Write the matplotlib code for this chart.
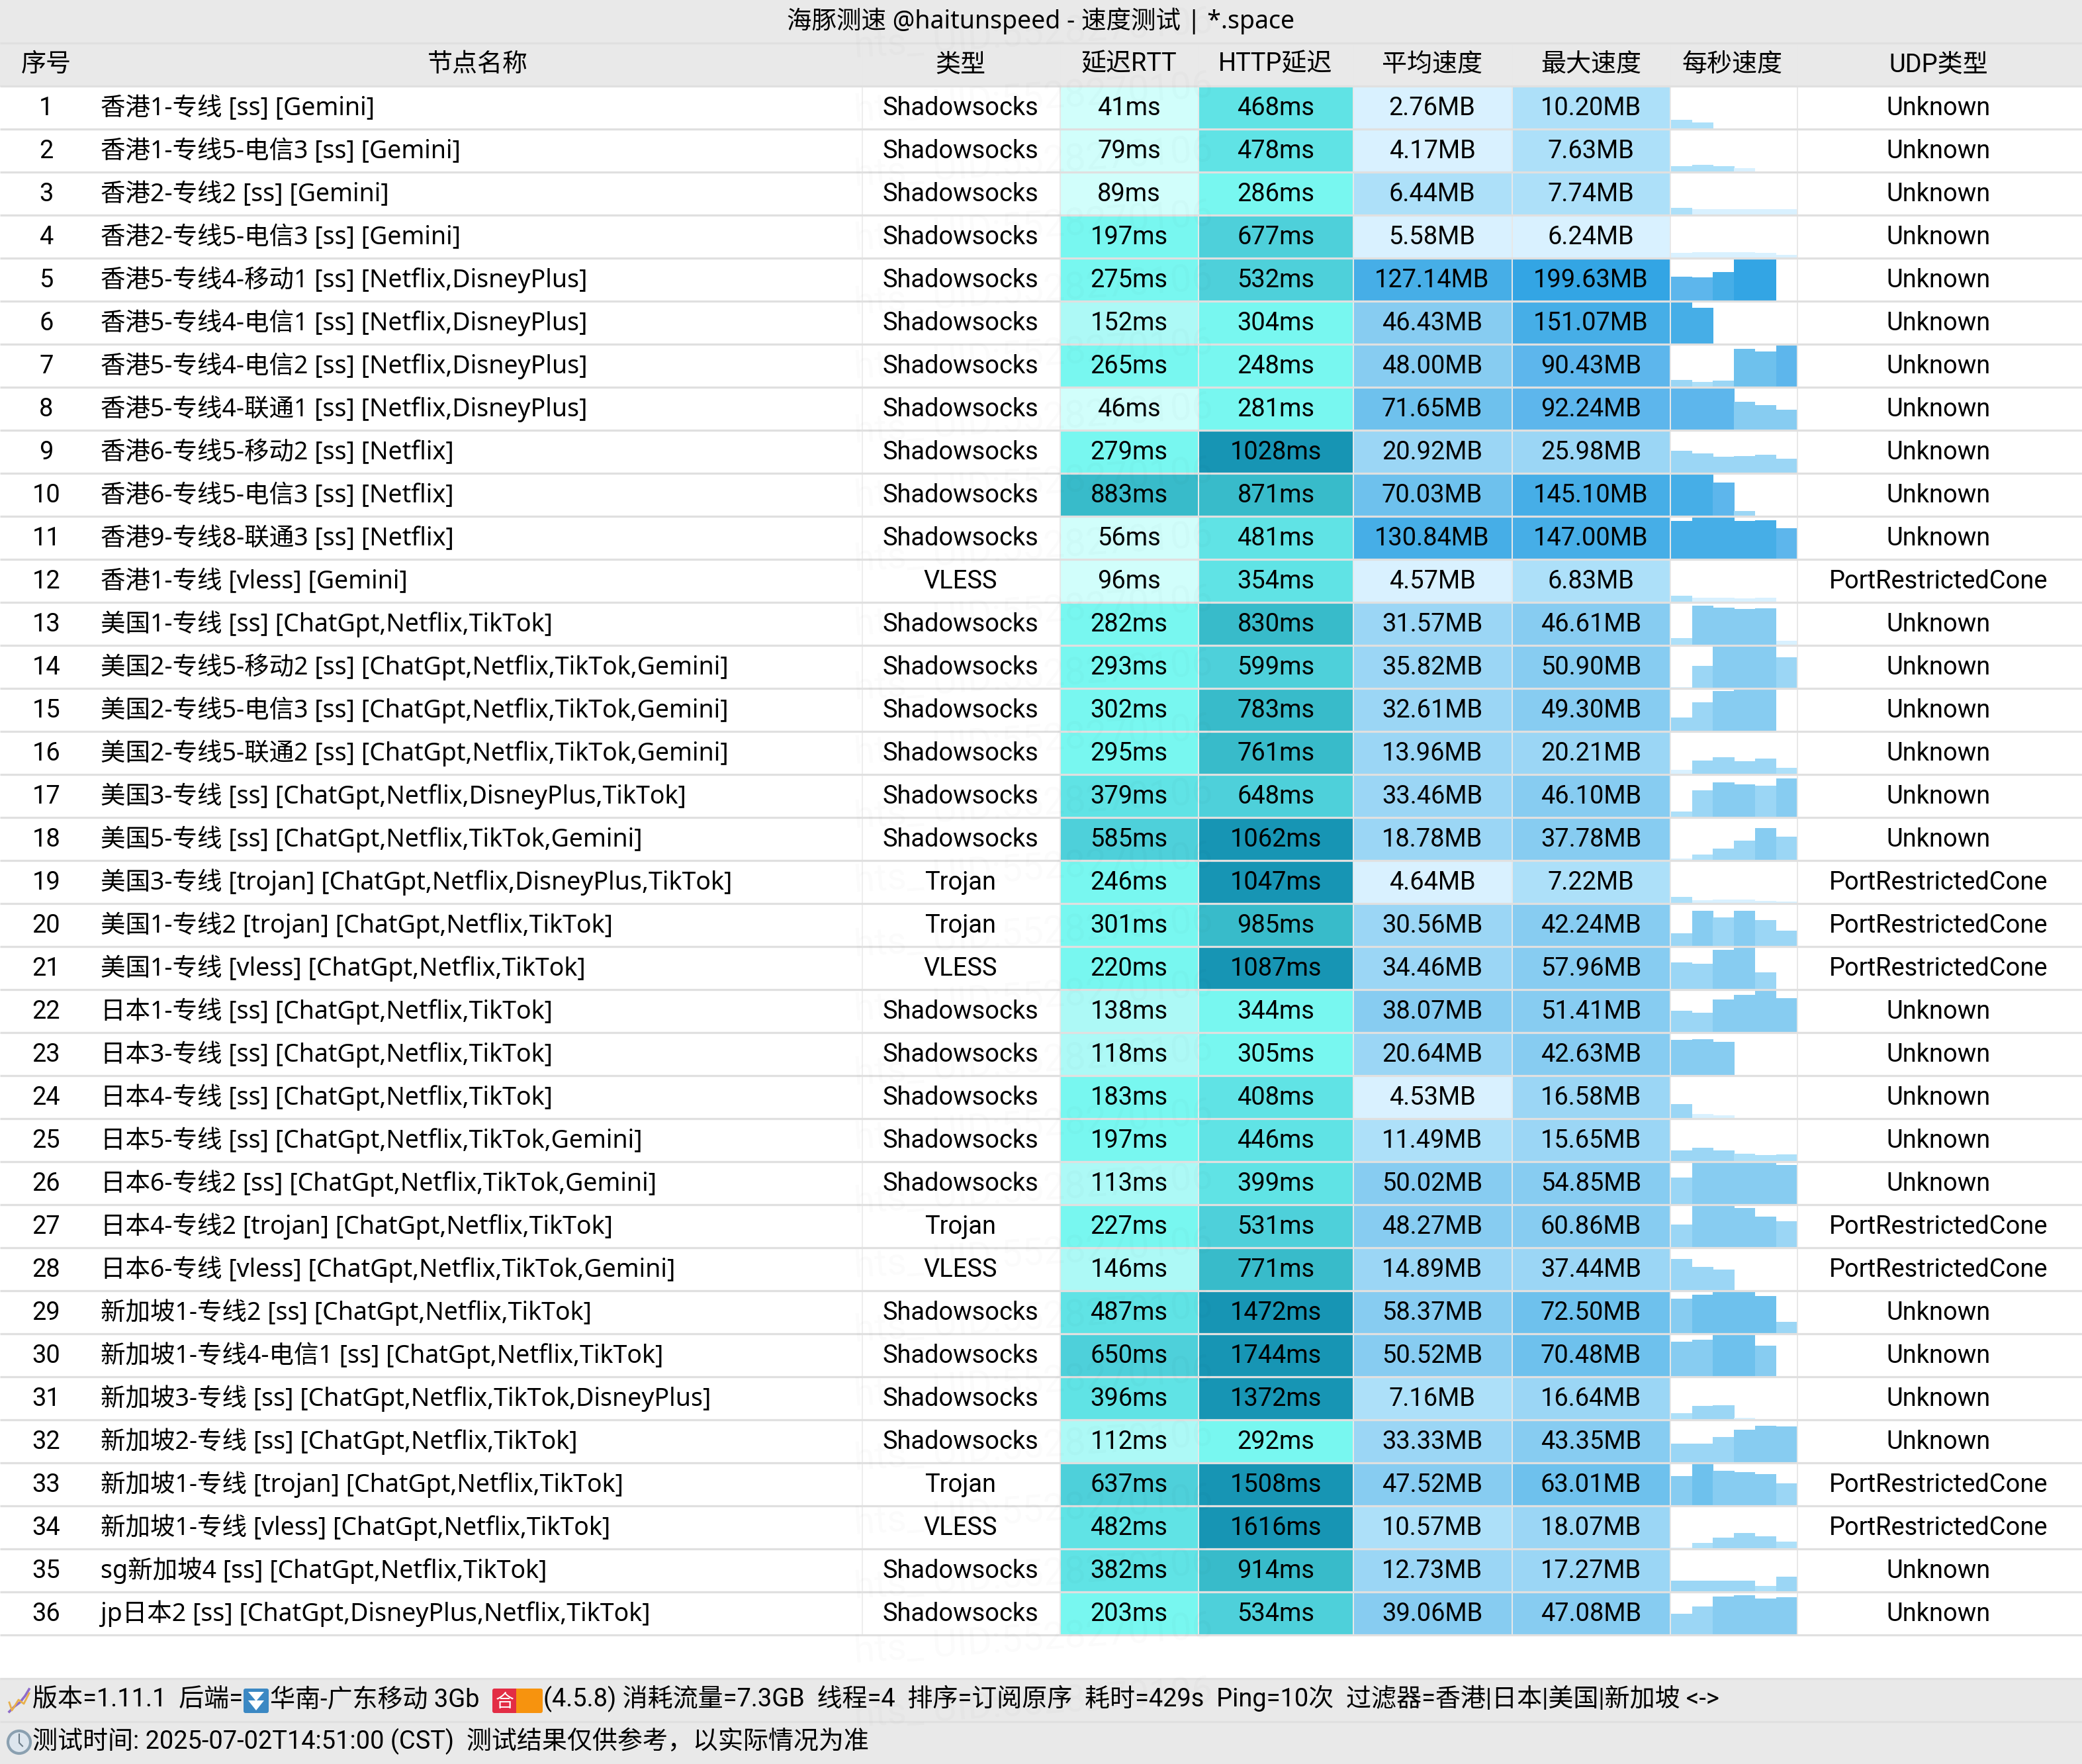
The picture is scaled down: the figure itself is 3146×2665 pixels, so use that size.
import matplotlib
matplotlib.use("Agg")
import matplotlib.pyplot as plt
from matplotlib.patches import Circle, FancyBboxPatch, Polygon

plt.rcParams["font.family"] = ["Roboto", "Noto Sans CJK SC", "DejaVu Sans"]
NAME_FONT = ["Noto Sans", "Noto Sans CJK SC", "DejaVu Sans"]

# table data
title = "海豚测速 @haitunspeed - 速度测试 | *.space"
headers = ["序号", "节点名称", "类型", "延迟RTT", "HTTP延迟", "平均速度", "最大速度", "每秒速度", "UDP类型"]
names = [
    "香港1-专线 [ss] [Gemini]",
    "香港1-专线5-电信3 [ss] [Gemini]",
    "香港2-专线2 [ss] [Gemini]",
    "香港2-专线5-电信3 [ss] [Gemini]",
    "香港5-专线4-移动1 [ss] [Netflix,DisneyPlus]",
    "香港5-专线4-电信1 [ss] [Netflix,DisneyPlus]",
    "香港5-专线4-电信2 [ss] [Netflix,DisneyPlus]",
    "香港5-专线4-联通1 [ss] [Netflix,DisneyPlus]",
    "香港6-专线5-移动2 [ss] [Netflix]",
    "香港6-专线5-电信3 [ss] [Netflix]",
    "香港9-专线8-联通3 [ss] [Netflix]",
    "香港1-专线 [vless] [Gemini]",
    "美国1-专线 [ss] [ChatGpt,Netflix,TikTok]",
    "美国2-专线5-移动2 [ss] [ChatGpt,Netflix,TikTok,Gemini]",
    "美国2-专线5-电信3 [ss] [ChatGpt,Netflix,TikTok,Gemini]",
    "美国2-专线5-联通2 [ss] [ChatGpt,Netflix,TikTok,Gemini]",
    "美国3-专线 [ss] [ChatGpt,Netflix,DisneyPlus,TikTok]",
    "美国5-专线 [ss] [ChatGpt,Netflix,TikTok,Gemini]",
    "美国3-专线 [trojan] [ChatGpt,Netflix,DisneyPlus,TikTok]",
    "美国1-专线2 [trojan] [ChatGpt,Netflix,TikTok]",
    "美国1-专线 [vless] [ChatGpt,Netflix,TikTok]",
    "日本1-专线 [ss] [ChatGpt,Netflix,TikTok]",
    "日本3-专线 [ss] [ChatGpt,Netflix,TikTok]",
    "日本4-专线 [ss] [ChatGpt,Netflix,TikTok]",
    "日本5-专线 [ss] [ChatGpt,Netflix,TikTok,Gemini]",
    "日本6-专线2 [ss] [ChatGpt,Netflix,TikTok,Gemini]",
    "日本4-专线2 [trojan] [ChatGpt,Netflix,TikTok]",
    "日本6-专线 [vless] [ChatGpt,Netflix,TikTok,Gemini]",
    "新加坡1-专线2 [ss] [ChatGpt,Netflix,TikTok]",
    "新加坡1-专线4-电信1 [ss] [ChatGpt,Netflix,TikTok]",
    "新加坡3-专线 [ss] [ChatGpt,Netflix,TikTok,DisneyPlus]",
    "新加坡2-专线 [ss] [ChatGpt,Netflix,TikTok]",
    "新加坡1-专线 [trojan] [ChatGpt,Netflix,TikTok]",
    "新加坡1-专线 [vless] [ChatGpt,Netflix,TikTok]",
    "sg新加坡4 [ss] [ChatGpt,Netflix,TikTok]",
    "jp日本2 [ss] [ChatGpt,DisneyPlus,Netflix,TikTok]",
]
S, V, T = "Shadowsocks", "VLESS", "Trojan"
types = [S] * 11 + [V] + [S] * 6 + [T, T, V] + [S] * 5 + [T, V] + [S] * 4 + [T, V, S, S]
rtt = [41, 79, 89, 197, 275, 152, 265, 46, 279, 883, 56, 96, 282, 293, 302, 295, 379, 585,
       246, 301, 220, 138, 118, 183, 197, 113, 227, 146, 487, 650, 396, 112, 637, 482, 382, 203]
http = [468, 478, 286, 677, 532, 304, 248, 281, 1028, 871, 481, 354, 830, 599, 783, 761, 648, 1062,
        1047, 985, 1087, 344, 305, 408, 446, 399, 531, 771, 1472, 1744, 1372, 292, 1508, 1616, 914, 534]
avg_speed = [2.76, 4.17, 6.44, 5.58, 127.14, 46.43, 48.00, 71.65, 20.92, 70.03, 130.84, 4.57,
             31.57, 35.82, 32.61, 13.96, 33.46, 18.78, 4.64, 30.56, 34.46, 38.07, 20.64, 4.53,
             11.49, 50.02, 48.27, 14.89, 58.37, 50.52, 7.16, 33.33, 47.52, 10.57, 12.73, 39.06]
max_speed = [10.20, 7.63, 7.74, 6.24, 199.63, 151.07, 90.43, 92.24, 25.98, 145.10, 147.00, 6.83,
             46.61, 50.90, 49.30, 20.21, 46.10, 37.78, 7.22, 42.24, 57.96, 51.41, 42.63, 16.58,
             15.65, 54.85, 60.86, 37.44, 72.50, 70.48, 16.64, 43.35, 63.01, 18.07, 17.27, 47.08]
P, U = "PortRestrictedCone", "Unknown"
udp = [U] * 11 + [P] + [U] * 6 + [P, P, P] + [U] * 5 + [P, P] + [U] * 4 + [P, P, U, U]
# per second speed, six samples per node
per_second = [
    [10.20, 6.8, 0, 0, 0, 0],
    [6.6, 7.63, 6.6, 4.2, 0, 0],
    [7.74, 6.0, 6.0, 6.0, 6.0, 6.0],
    [5.6, 6.24, 6.2, 6.2, 5.6, 3.0],
    [115, 112, 135, 199.63, 199.63, 0],
    [151.07, 129, 0, 0, 0, 0],
    [14.3, 9.8, 13, 81.3, 75.5, 90.43],
    [92.24, 92, 92, 61, 53.8, 44.5],
    [25.98, 22.7, 18.7, 20.2, 21.2, 17],
    [145.10, 145, 115, 16.7, 0, 0],
    [133, 145, 147, 133, 135, 107],
    [6.83, 5.0, 4.5, 3.8, 5.0, 0],
    [8.0, 46.61, 44.2, 42.8, 43.5, 4.7],
    [1.1, 26.4, 50.9, 50.9, 50.9, 37],
    [16.2, 33.8, 47.5, 48.9, 49.30, 0],
    [5.0, 16.2, 20.21, 14.7, 18, 7.2],
    [6.4, 32, 41, 39.2, 37.4, 46.10],
    [1.8, 6.5, 13.7, 22.7, 37.78, 28],
    [7.22, 3.2, 4.3, 4.3, 2.5, 1.8],
    [15.1, 42.24, 33.8, 42.2, 30.6, 18.3],
    [37.2, 35, 54, 57.96, 23, 0],
    [26.5, 24, 40.3, 45.5, 51.41, 42],
    [41.8, 42.63, 39.6, 0, 0, 0],
    [16.58, 5.0, 3.2, 0, 0, 0],
    [13, 15.65, 13, 8.9, 7.3, 8.1],
    [34.5, 54.85, 54.8, 54.8, 54.8, 51.3],
    [32.4, 60.86, 60.8, 56.9, 44.2, 37.3],
    [37.44, 27.4, 25, 0, 0, 0],
    [59.6, 66.7, 72.5, 71.3, 64.3, 19.9],
    [58, 61.4, 70.48, 70, 51.2, 0],
    [7.3, 15.5, 16.64, 1.6, 0, 0],
    [22, 22, 30, 38.7, 43.35, 42.6],
    [43.7, 63.01, 51.8, 49.8, 46.8, 33.5],
    [0.8, 6.5, 12.8, 18.07, 13.9, 8.1],
    [13, 12.6, 12.6, 13, 6.5, 17.27],
    [25, 33.3, 45.4, 47.08, 43, 44.6],
]
footer_a = "版本=1.11.1  后端="
footer_b = "华南-广东移动 3Gb"
footer_c = "(4.5.8) 消耗流量=7.3GB  线程=4  排序=订阅原序  耗时=429s  Ping=10次  过滤器=香港|日本|美国|新加坡 <->"
footer_d = "测试时间: 2025-07-02T14:51:00 (CST)  测试结果仅供参考，以实际情况为准"
watermark = "hts_ UID:5528270106"

# colour steps
delay_steps = [100, 170, 350, 500, 700, 1000]
delay_colors = ["#D1FEFB", "#ADF9F6", "#78F7F0", "#60E3E5", "#4ED0DA", "#38BBCA", "#1795B4"]
speed_steps = [6.25, 12.5, 37.5, 62.5, 87.5, 125, 187.5]
speed_colors = ["#D9F1FF", "#ADE0F9", "#9BD6F5", "#87CCF1", "#6EC1ED", "#5DB6EC", "#46AEE7", "#33A5E4"]


def pick(value, steps, colors):
    for step, color in zip(steps, colors):
        if value < step:
            return color
    return colors[-1]


W, H = 3146, 2665
GREY, LINE = "#E9E9E9", "#E0E0E0"
FS = 27.4
NAME_FS = 27
row_top, row_h = 131, 65
col_edges = [1303, 1602, 1811, 2045, 2285, 2524, 2716]
col_x = dict(no=70, name=152, type=1451, rtt=1706, http=1928, avg=2164, max=2404, udp=2929)
header_x = [70, 722, 1451, 1706, 1927, 2164, 2404, 2618, 2929]
spark_left, spark_w = 2525, 31.8

fig = plt.figure(figsize=(W / 100, H / 100), dpi=100)
ax = fig.add_axes([0, 0, 1, 1])
ax.set_xlim(0, W)
ax.set_ylim(H, 0)
ax.axis("off")

# bands
ax.bar(W / 2, 131, W, 0, color=GREY, zorder=0)
ax.bar(W / 2, H - 2535, W, 2535, color=GREY, zorder=0)

n = len(names)
tops = [row_top + i * row_h for i in range(n)]
cell_h = row_h - 2

# coloured cells
for i in range(n):
    cols = [
        (1603, 1811, pick(rtt[i], delay_steps, delay_colors)),
        (1812, 2045, pick(http[i], delay_steps, delay_colors)),
        (2046, 2285, pick(avg_speed[i], speed_steps, speed_colors)),
        (2286, 2524, pick(max_speed[i], speed_steps, speed_colors)),
    ]
    for x0, x1, c in cols:
        ax.bar((x0 + x1) / 2, cell_h, x1 - x0, tops[i], color=c, linewidth=0, zorder=1)
    # small bars, full height is 50MB or the node's own max
    scale = max(50, max_speed[i])
    bottom = tops[i] + cell_h
    for j, v in enumerate(per_second[i]):
        if v <= 0:
            continue
        h = min(v / scale, 1) * cell_h
        ax.bar(spark_left + (j + 0.5) * spark_w, h, spark_w + 0.4, bottom - h,
               color=pick(v, speed_steps, speed_colors), linewidth=0, zorder=1)

# grid
for x in col_edges:
    ax.plot([x, x], [65, tops[-1] + row_h], color="#E8E8E8", lw=1.4, zorder=2, solid_capstyle="butt")
ax.plot([1303, 1303], [131, tops[-1] + row_h], color="#EFEFEF", lw=1.4, zorder=2)
for y in [65] + [130 + i * row_h for i in range(n + 1)] + [2535.5, 2601]:
    ax.plot([0, W], [y, y], color=LINE, lw=2.3, zorder=2, solid_capstyle="butt")

# faint watermark column
for k in range(27):
    ax.text(1292, 87 + k * 97, watermark, fontsize=41, color="#000000", alpha=0.02,
            rotation=4, rotation_mode="anchor", ha="left", va="baseline", zorder=3)

# text
ax.text(W / 2, 43, title, fontsize=NAME_FS, family=NAME_FONT, ha="center", va="baseline", zorder=4)
for x, label in zip(header_x, headers):
    ax.text(x, 108, label, fontsize=FS, ha="center", va="baseline", zorder=4)
for i in range(n):
    y = 174 + i * row_h
    ax.text(col_x["no"], y, str(i + 1), fontsize=FS, ha="center", va="baseline", zorder=4)
    ax.text(col_x["name"], y, names[i], fontsize=NAME_FS, family=NAME_FONT, ha="left", va="baseline", zorder=4)
    ax.text(col_x["type"], y, types[i], fontsize=FS, ha="center", va="baseline", zorder=4)
    ax.text(col_x["rtt"], y, f"{rtt[i]}ms", fontsize=FS, ha="center", va="baseline", zorder=4)
    ax.text(col_x["http"], y, f"{http[i]}ms", fontsize=FS, ha="center", va="baseline", zorder=4)
    ax.text(col_x["avg"], y, f"{avg_speed[i]:.2f}MB", fontsize=FS, ha="center", va="baseline", zorder=4)
    ax.text(col_x["max"], y, f"{max_speed[i]:.2f}MB", fontsize=FS, ha="center", va="baseline", zorder=4)
    ax.text(col_x["udp"], y, udp[i], fontsize=FS, ha="center", va="baseline", zorder=4)

# footer text
ax.text(49, 2578, footer_a, fontsize=FS, ha="left", va="baseline", zorder=4)
ax.text(408, 2578, footer_b, fontsize=FS, ha="left", va="baseline", zorder=4)
ax.text(821, 2578, footer_c, fontsize=FS, ha="left", va="baseline", zorder=4)
ax.text(49, 2642, footer_d, fontsize=FS, ha="left", va="baseline", zorder=4)

# footer icons: dna, speedtest logo, badge, clock
ax.plot([14, 22, 30, 38, 44], [2586, 2578, 2572, 2562, 2552], color="#8E6BC9", lw=2.6, zorder=4)
ax.plot([14, 18, 28, 36, 44], [2572, 2584, 2568, 2574, 2558], color="#E8B04A", lw=2.0, zorder=4)
ax.add_patch(FancyBboxPatch((371, 2554), 32, 31, boxstyle="round,pad=3", fc="#3B88C3", ec="none", zorder=4))
ax.add_patch(Polygon([[375, 2556], [399, 2556], [387, 2570]], fc="white", ec="none", zorder=5))
ax.add_patch(Polygon([[375, 2569], [399, 2569], [387, 2584]], fc="white", ec="none", zorder=5))
ax.add_patch(FancyBboxPatch((747, 2554), 33, 31, boxstyle="round,pad=3", fc="#E32D45", ec="none", zorder=4))
ax.add_patch(FancyBboxPatch((786, 2554), 31, 31, boxstyle="round,pad=3", fc="#F7930E", ec="none", zorder=4))
ax.bar(783, 37, 6, 2551, color="#F7930E", linewidth=0, zorder=4)
ax.text(763, 2579, "合", fontsize=20, color="white", ha="center", va="baseline", zorder=5)
ax.add_patch(Circle((29, 2632), 17, fc="#DDE6EE", ec="#8AA0B0", lw=3, zorder=4))
ax.plot([29, 29, 34], [2620, 2633, 2638], color="#6B7C88", lw=1.5, zorder=5)

fig.savefig("out.png", dpi=100)
